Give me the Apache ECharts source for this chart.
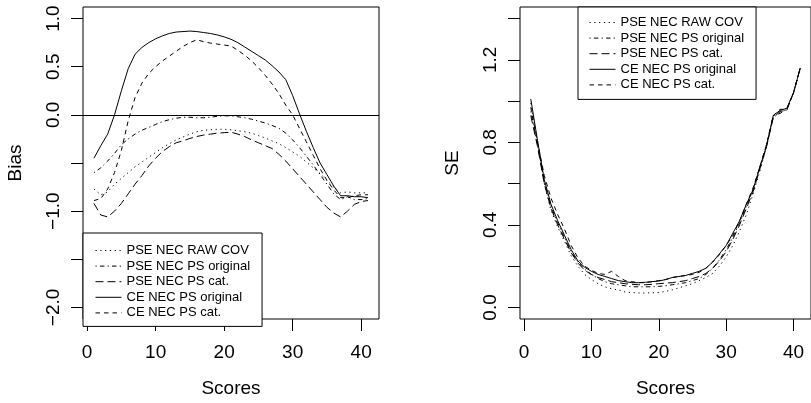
<!DOCTYPE html>
<html><head><meta charset="utf-8">
<script src="https://cdn.jsdelivr.net/npm/echarts@6/dist/echarts.min.js"></script>
<style>html,body{margin:0;padding:0;background:#fff}#c{width:811px;height:403px}</style>
</head><body><div id="c"></div>
<script>
const scores = [1,2,3,4,5,6,7,8,9,10,11,12,13,14,15,16,17,18,19,20,21,22,23,24,25,26,27,28,29,30,31,32,33,34,35,36,37,38,39,40,41];
const seriesNames = ['PSE NEC RAW COV','PSE NEC PS original','PSE NEC PS cat.','CE NEC PS original','CE NEC PS cat.'];
const xTicks = [0,10,20,30,40];
const biasTicks = [-2,-1.5,-1,-0.5,0,0.5,1];
const biasLabels = [-2,-1,0,0.5,1];
const seTicks = [0,0.2,0.4,0.6,0.8,1.0,1.2,1.4];
const seLabels = [0,0.4,0.8,1.2];

// Left panel: Bias
const biasRawCov = [-0.77,-0.83,-0.80,-0.72,-0.66,-0.60,-0.54,-0.49,-0.44,-0.39,-0.34,-0.30,-0.26,-0.23,-0.20,-0.175,-0.16,-0.155,-0.15,-0.15,-0.155,-0.165,-0.175,-0.19,-0.215,-0.24,-0.27,-0.30,-0.34,-0.385,-0.43,-0.49,-0.55,-0.61,-0.68,-0.75,-0.81,-0.80,-0.81,-0.81,-0.81];
const biasPsOrig = [-0.60,-0.55,-0.48,-0.40,-0.31,-0.25,-0.20,-0.16,-0.13,-0.10,-0.07,-0.05,-0.035,-0.025,-0.025,-0.03,-0.03,-0.025,-0.015,-0.01,-0.01,-0.02,-0.03,-0.045,-0.065,-0.085,-0.11,-0.14,-0.19,-0.26,-0.34,-0.43,-0.52,-0.62,-0.72,-0.82,-0.88,-0.85,-0.88,-0.88,-0.87];
const biasPsCat = [-0.92,-1.04,-1.06,-1.00,-0.92,-0.82,-0.72,-0.63,-0.53,-0.45,-0.38,-0.33,-0.29,-0.27,-0.245,-0.225,-0.21,-0.20,-0.19,-0.185,-0.18,-0.20,-0.225,-0.26,-0.29,-0.32,-0.35,-0.41,-0.48,-0.56,-0.64,-0.72,-0.80,-0.88,-0.96,-1.02,-1.06,-1.00,-0.93,-0.90,-0.89];
const biasCeOrig = [-0.45,-0.32,-0.20,0.00,0.25,0.48,0.63,0.70,0.75,0.79,0.82,0.845,0.86,0.865,0.87,0.865,0.855,0.845,0.83,0.81,0.785,0.75,0.705,0.66,0.615,0.57,0.51,0.445,0.365,0.20,0.01,-0.17,-0.34,-0.50,-0.62,-0.74,-0.84,-0.84,-0.85,-0.85,-0.86];
const biasCeCat = [-0.89,-0.87,-0.77,-0.60,-0.37,-0.06,0.18,0.33,0.43,0.50,0.56,0.61,0.66,0.71,0.75,0.78,0.76,0.745,0.735,0.725,0.715,0.67,0.62,0.56,0.49,0.41,0.32,0.22,0.10,0.00,-0.14,-0.28,-0.42,-0.56,-0.68,-0.78,-0.86,-0.86,-0.84,-0.83,-0.83];

// Right panel: SE
const seRawCov = [0.99,0.80,0.60,0.47,0.39,0.32,0.25,0.20,0.16,0.135,0.115,0.10,0.09,0.085,0.075,0.072,0.07,0.07,0.071,0.072,0.078,0.085,0.095,0.105,0.115,0.13,0.145,0.165,0.20,0.245,0.30,0.37,0.45,0.55,0.66,0.78,0.92,0.945,0.96,1.04,1.155];
const sePsOrig = [0.95,0.79,0.61,0.49,0.41,0.34,0.27,0.22,0.185,0.16,0.14,0.125,0.115,0.11,0.105,0.10,0.10,0.10,0.10,0.102,0.105,0.11,0.115,0.12,0.13,0.14,0.16,0.19,0.23,0.28,0.34,0.41,0.49,0.57,0.68,0.79,0.93,0.94,0.96,1.04,1.16];
const sePsCat = [0.93,0.78,0.60,0.48,0.40,0.33,0.265,0.215,0.18,0.16,0.145,0.135,0.125,0.12,0.115,0.112,0.11,0.11,0.112,0.115,0.118,0.12,0.125,0.13,0.14,0.15,0.165,0.19,0.225,0.27,0.33,0.40,0.48,0.56,0.67,0.78,0.92,0.95,0.955,1.04,1.16];
const seCeOrig = [1.01,0.81,0.62,0.50,0.42,0.35,0.28,0.225,0.195,0.175,0.16,0.15,0.14,0.13,0.125,0.12,0.12,0.122,0.125,0.128,0.135,0.145,0.15,0.155,0.165,0.175,0.19,0.22,0.26,0.30,0.36,0.42,0.50,0.57,0.68,0.78,0.93,0.955,0.965,1.04,1.16];
const seCeCat = [0.97,0.80,0.64,0.53,0.45,0.38,0.30,0.24,0.20,0.18,0.165,0.16,0.175,0.15,0.13,0.125,0.12,0.12,0.125,0.13,0.135,0.145,0.15,0.155,0.16,0.17,0.19,0.22,0.255,0.30,0.35,0.42,0.50,0.58,0.68,0.79,0.93,0.96,0.96,1.04,1.16];

const FONT = "'Liberation Sans', Arial, Helvetica, sans-serif";
const dashes = [[1.2,3.6],[1.2,3.2,4.5,3.2],[8,4],null,[4.5,4]];
const biasData = [biasRawCov,biasPsOrig,biasPsCat,biasCeOrig,biasCeCat];
const seData = [seRawCov,sePsOrig,sePsCat,seCeOrig,seCeCat];

function fmt(v){ return v.toFixed(1).replace('-', '\u2212'); }

function xAxisFor(gi){
  return {
    type:'value', gridIndex:gi, min:-0.6, max:42.6,
    axisLine:{show:false,onZero:false},
    axisTick:{show:true,customValues:xTicks,length:12,lineStyle:{color:'#000',width:1}},
    axisLabel:{customValues:xTicks,margin:24,fontSize:19,color:'#000',fontFamily:FONT},
    splitLine:{show:false},
    name:'Scores', nameLocation:'middle', nameGap:60,
    nameTextStyle:{fontSize:19,color:'#000',fontFamily:FONT}
  };
}
function yAxisFor(gi,min,max,ticks,labels,name){
  return {
    type:'value', gridIndex:gi, min:min, max:max,
    axisLine:{show:false,onZero:false},
    axisTick:{show:true,customValues:ticks,length:12,lineStyle:{color:'#000',width:1}},
    axisLabel:{customValues:labels,margin:20,rotate:90,fontSize:19,color:'#000',fontFamily:FONT,formatter:fmt},
    splitLine:{show:false},
    name:name, nameLocation:'middle', nameGap:58, nameRotate:90,
    nameTextStyle:{fontSize:19,color:'#000',fontFamily:FONT}
  };
}

const series = [];
for (let i=0;i<5;i++){
  const s = {
    name:seriesNames[i], type:'line', xAxisIndex:0, yAxisIndex:0,
    data:scores.map((x,k)=>[x,biasData[i][k]]),
    symbol:'none', showSymbol:false, smooth:false,
    lineStyle:{color:'#000',width:1,type:dashes[i]||'solid'},
    itemStyle:{color:'#000'}, z:3
  };
  if (i===3){
    s.markLine = {silent:true,symbol:'none',label:{show:false},
      lineStyle:{color:'#000',type:'solid',width:1},data:[{yAxis:0}]};
  }
  series.push(s);
}
for (let i=0;i<5;i++){
  series.push({
    name:seriesNames[i], type:'line', xAxisIndex:1, yAxisIndex:1,
    data:scores.map((x,k)=>[x,seData[i][k]]),
    symbol:'none', showSymbol:false, smooth:false,
    lineStyle:{color:'#000',width:1,type:dashes[i]||'solid'},
    itemStyle:{color:'#000'}, z:3
  });
}

function legendAt(left,top,pad){
  return {
    data:seriesNames, orient:'vertical', left:left, top:top, padding:pad,
    itemWidth:26, itemHeight:12, itemGap:2.6, selectedMode:false,
    backgroundColor:'#fff', borderColor:'#000', borderWidth:1, borderRadius:0,
    itemStyle:{opacity:0, borderWidth:0},
    lineStyle:{width:1},
    textStyle:{fontSize:13,color:'#000',fontFamily:FONT,lineHeight:12},
    inactiveColor:'#000'
  };
}

const chart = echarts.init(document.getElementById('c'), null, {renderer:'canvas'});
chart.setOption({
  animation:false,
  backgroundColor:'#fff',
  grid:[
    {left:83, top:7, width:296, height:319, show:true, borderColor:'#000', borderWidth:1, backgroundColor:'transparent', containLabel:false},
    {left:520, top:7, width:295.5, height:319, show:true, borderColor:'#000', borderWidth:1, backgroundColor:'transparent', containLabel:false}
  ],
  xAxis:[xAxisFor(0), xAxisFor(1)],
  yAxis:[
    yAxisFor(0,-2.12,1.12,biasTicks,biasLabels,'Bias'),
    yAxisFor(1,-0.056,1.456,seTicks,seLabels,'SE')
  ],
  legend:[legendAt(83,233,[11,12,7,12]), legendAt(578,7,[9,12,8,11])],
  series:series
});
</script></body></html>
